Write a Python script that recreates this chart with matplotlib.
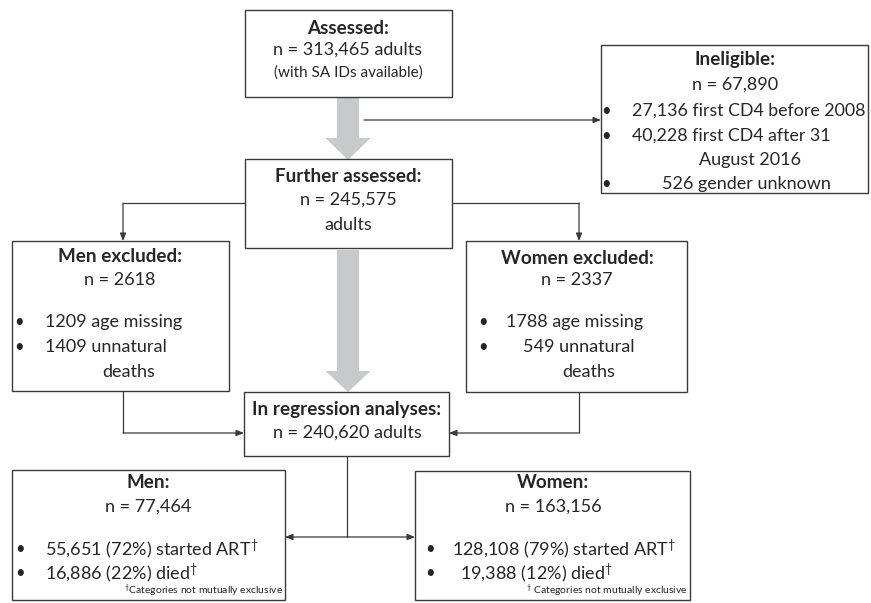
import matplotlib
matplotlib.use("Agg")
import matplotlib.pyplot as plt
from matplotlib.patches import Rectangle, FancyArrow

plt.rcParams['font.family'] = ['Lato', 'DejaVu Sans']
plt.rcParams['mathtext.fontset'] = 'custom'
plt.rcParams['mathtext.rm'] = 'Lato'
plt.rcParams['mathtext.it'] = 'Lato'

# counts shown in the flow chart
assessed_n = "313,465"
ineligible_n = "67,890"
further_n = "245,575"
men_excl_n = "2618"
women_excl_n = "2337"
regression_n = "240,620"
men_n = "77,464"
women_n = "163,156"

ineligible_items = ["27,136 first CD4 before 2008", "40,228 first CD4 after 31", "526 gender unknown"]
men_excl_items = ["1209 age missing", "1409 unnatural"]
women_excl_items = ["1788 age missing", "549 unnatural"]
men_items = ["55,651 (72%) started ART$^{\\mathregular{†}}$", "16,886 (22%) died$^{\\mathregular{†}}$"]
women_items = ["128,108 (79%) started ART$^{\\mathregular{†}}$", "19,388 (12%) died$^{\\mathregular{†}}$"]

LC = '#3a3a3a'
TC = '#262626'
GRAY = '#c8c9cb'
FS = 13
BFS = 13.6

fig = plt.figure(figsize=(8.71, 6.03), dpi=100)
ax = fig.add_axes([0, 0, 1, 1])
ax.set_xlim(0, 871)
ax.set_ylim(603, 0)
ax.axis('off')


def box(x0, y0, x1, y1):
    ax.add_patch(Rectangle((x0, y0), x1 - x0, y1 - y0, fill=False, ec=LC, lw=1.0))


def txt(x, y, s, bold=False, size=FS, ha='center'):
    ax.text(x, y, s, ha=ha, va='center', fontsize=BFS if bold else size, color=TC,
            fontweight='bold' if bold else 'normal')


def line(xs, ys):
    ax.plot(xs, ys, color=LC, lw=0.9, solid_capstyle='butt')


def arrow(x0, y0, x1, y1):
    ax.annotate('', xy=(x1, y1), xytext=(x0, y0),
                arrowprops=dict(arrowstyle='-|>,head_length=0.45,head_width=0.18',
                                color=LC, lw=0.9, shrinkA=0, shrinkB=0))


def bullet(x, y):
    ax.text(x, y, '•', ha='center', va='center', fontsize=FS - 1, color=TC)


# big grey arrows
ax.add_patch(FancyArrow(348, 97, 0, 63, width=22, head_width=45, head_length=22,
                        length_includes_head=True, color=GRAY, lw=0))
ax.add_patch(FancyArrow(348, 250, 0, 142, width=22, head_width=45, head_length=21,
                        length_includes_head=True, color=GRAY, lw=0))

# Assessed
box(245, 10, 452, 97)
txt(348, 28, "Assessed:", bold=True)
txt(348, 50, f"n = {assessed_n} adults")
txt(348, 73, "(with SA IDs available)", size=FS - 2)

# Ineligible
arrow(364, 120, 601, 120)
box(601, 45, 868, 193)
txt(735, 60, "Ineligible:", bold=True)
txt(735, 85, f"n = {ineligible_n}")
bullet(606, 111); txt(632, 111, ineligible_items[0], ha='left', size=12.8)
bullet(606, 136); txt(632, 136, ineligible_items[1], ha='left', size=12.8)
txt(750, 160, "August 2016")
bullet(606, 184); txt(662, 184, ineligible_items[2], ha='left')

# Further assessed
box(245, 159, 452, 248)
txt(348, 177, "Further assessed:", bold=True)
txt(348, 200, f"n = {further_n}")
txt(348, 225, "adults")

# exclusions
line([245, 123], [203, 203]); arrow(123, 203, 123, 241)
line([452, 579], [203, 203]); arrow(579, 203, 579, 241)

box(12, 241, 229, 391)
txt(120, 257, "Men excluded:", bold=True)
txt(120, 280, f"n = {men_excl_n}")
bullet(19, 322); txt(45, 322, men_excl_items[0], ha='left')
bullet(19, 347); txt(45, 347, men_excl_items[1], ha='left')
txt(102, 372, "deaths", ha='left')

box(466, 241, 687, 392)
txt(577, 258, "Women excluded:", bold=True)
txt(577, 280, f"n = {women_excl_n}")
bullet(483, 322); txt(506, 322, women_excl_items[0], ha='left')
bullet(483, 347); txt(523, 347, women_excl_items[1], ha='left')
txt(562, 372, "deaths", ha='left')

line([123, 123], [391, 433]); arrow(123, 433, 244, 433)
line([579, 579], [392, 433]); arrow(579, 433, 449, 433)

# regression
box(244, 392, 449, 456)
txt(347, 410, "In regression analyses:", bold=True)
txt(347, 433, f"n = {regression_n} adults")

line([347, 347], [456, 537])
arrow(347, 537, 285, 537)
arrow(347, 537, 415, 537)

# men / women
box(12, 470, 285, 600)
txt(148, 483, "Men:", bold=True)
txt(148, 507, f"n = {men_n}")
bullet(20, 549); txt(45, 549, men_items[0], ha='left')
bullet(20, 573); txt(45, 573, men_items[1], ha='left')
txt(283, 591, "$^{\\mathregular{†}}$Categories not mutually exclusive", size=7.5, ha='right')

box(415, 471, 690, 600)
txt(553, 483, "Women:", bold=True)
txt(553, 507, f"n = {women_n}")
bullet(430, 549); txt(452, 549, women_items[0], ha='left')
bullet(430, 573); txt(460, 573, women_items[1], ha='left')
txt(688, 591, "$^{\\mathregular{†}}$ Categories not mutually exclusive", size=7.5, ha='right')

fig.savefig("out.png", dpi=100)
